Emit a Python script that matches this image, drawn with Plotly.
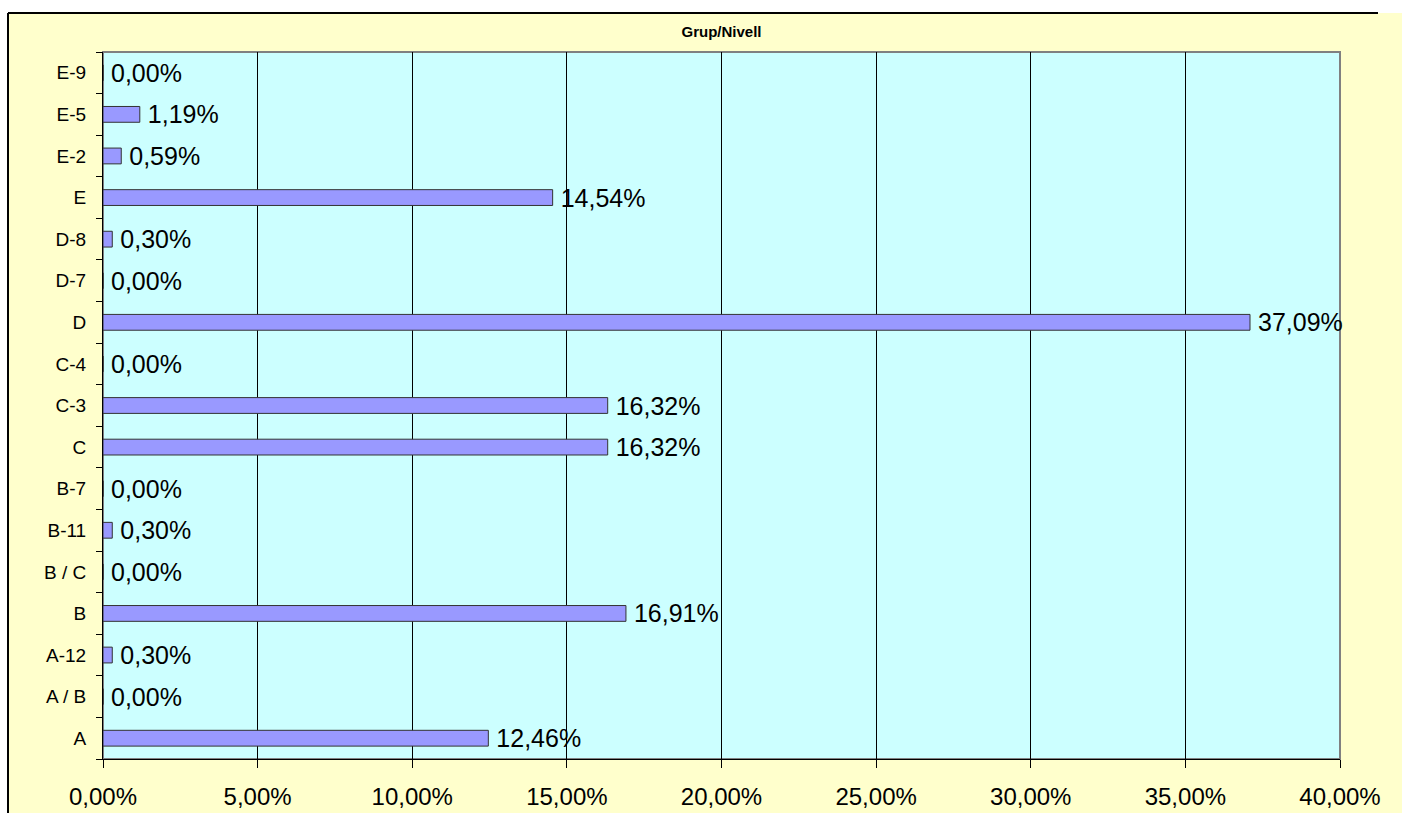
import plotly.graph_objects as go

# categories bottom -> top, as in the chart
grups = ["A", "A / B", "A-12", "B", "B / C", "B-11", "B-7", "C", "C-3", "C-4",
         "D", "D-7", "D-8", "E", "E-2", "E-5", "E-9"]
percent = [12.46, 0.00, 0.30, 16.91, 0.00, 0.30, 0.00, 16.32, 16.32, 0.00,
           37.09, 0.00, 0.30, 14.54, 0.59, 1.19, 0.00]
x_ticks = [0, 5, 10, 15, 20, 25, 30, 35, 40]
x_labels = [("%.2f" % v).replace(".", ",") + "%" for v in x_ticks]

W, H = 1402, 813
ML, MR, MT, MB = 103, 62, 52, 54

fig = go.Figure()
fig.add_trace(go.Bar(
    y=grups, x=percent, orientation="h",
    marker=dict(color="#9999FF", line=dict(color="#333333", width=1)),
    text=percent, texttemplate="\u2009%{x:.2f}%", textposition="outside",
    constraintext="none", cliponaxis=False,
    textfont=dict(family="Liberation Sans, Arial", size=25, color="black"),
    hoverinfo="skip",
))

# outer frame: white strips top/left, black border lines
shapes = [
    dict(type="rect", xref="paper", yref="paper", xsizemode="pixel", ysizemode="pixel",
         xanchor=0, yanchor=1, x0=-ML - 5, x1=W, y0=MT - 13, y1=MT + 5,
         fillcolor="white", line=dict(width=0)),
    dict(type="rect", xref="paper", yref="paper", xsizemode="pixel", ysizemode="pixel",
         xanchor=0, yanchor=1, x0=-ML - 5, x1=-ML + 8, y0=MT + 5, y1=-(H - MT) - 5,
         fillcolor="white", line=dict(width=0)),
    dict(type="line", xref="paper", yref="paper", xsizemode="pixel", ysizemode="pixel",
         xanchor=0, yanchor=1, x0=-ML + 8, x1=1378 - ML, y0=MT - 13, y1=MT - 13,
         line=dict(color="black", width=2)),
    dict(type="line", xref="paper", yref="paper", xsizemode="pixel", ysizemode="pixel",
         xanchor=0, yanchor=1, x0=-ML + 8, x1=-ML + 8, y0=MT - 13, y1=-(H - MT) - 5,
         line=dict(color="black", width=2)),
    # grey border of plot area
    dict(type="rect", xref="x domain", yref="y domain", x0=0, x1=1, y0=0, y1=1,
         line=dict(color="#808080", width=2), layer="below"),
]

fig.update_layout(
    width=W, height=H,
    margin=dict(l=ML, r=MR, t=MT, b=MB),
    paper_bgcolor="#FFFFCC",
    plot_bgcolor="#CCFFFF",
    separators=",.",
    bargap=0.62,
    showlegend=False,
    shapes=shapes,
    font=dict(family="Liberation Sans, Arial", color="black"),
    title=dict(text="<b>Grup/Nivell</b>", x=0.5, xref="paper", xanchor="center",
               y=1 - 32 / H, yref="container", yanchor="middle",
               font=dict(size=15, color="black")),
    xaxis=dict(range=[0, 40], tickvals=x_ticks, ticktext=x_labels, automargin=False,
               showgrid=True, gridcolor="black", gridwidth=1, zeroline=False,
               showline=True, linecolor="black", linewidth=1,
               ticks="outside", ticklen=8, tickcolor="black", ticklabelstandoff=8,
               tickfont=dict(size=24, color="black"), fixedrange=True),
    yaxis=dict(type="category", categoryorder="array", categoryarray=grups,
               automargin=False,
               showgrid=False, zeroline=False,
               showline=True, linecolor="black", linewidth=1,
               ticks="outside", ticklen=6, tickcolor="black", tickson="boundaries",
               ticklabelstandoff=12,
               tickfont=dict(size=19, color="black"), fixedrange=True),
)

# drop the default page margin so the figure sits at the window's corner
fig.write_html("out.html", config={"displayModeBar": False},
               post_script="document.body.style.margin='0';")
